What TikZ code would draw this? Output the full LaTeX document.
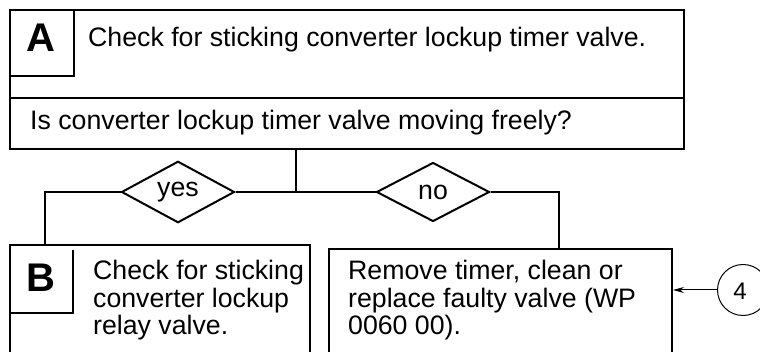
\documentclass[tikz,border=0pt]{standalone}
\usepackage{fontspec}
\setmainfont{Liberation Sans}
\usetikzlibrary{shapes.geometric, arrows.meta}

\begin{document}
\begin{tikzpicture}[x=1pt, y=-1pt,
    box/.style={draw, line width=2pt, anchor=north west, inner sep=0pt},
    choice/.style={draw, diamond, line width=2pt, minimum width=113pt, minimum height=59pt, inner sep=0pt, font=\fontsize{26.7}{27.5}\selectfont},
    txt/.style={anchor=base west, inner sep=0pt, align=left, font=\fontsize{26.7}{27.5}\selectfont},
    letter/.style={anchor=base, inner sep=0pt, font=\fontsize{40}{40}\bfseries\selectfont}]
    \clip (0,0) rectangle (760,352);
    % step A
    \node[box, minimum width=674pt, minimum height=88pt] (stepA) at (9,9) {};
    \node[box, minimum width=674pt, minimum height=51pt] (questA) at (9,97) {};
    \node[box, minimum width=64pt, minimum height=66pt] (tagA) at (9,9) {};
    \node[letter] (letA) at (41,52) {A};
    \node[txt] (textA) at (88,47) {Check for sticking converter lockup timer valve.};
    \node[txt] (textQ) at (30,130) {Is converter lockup timer valve moving freely?};
    % answers
    \coordinate (split) at (296,192);
    \node[choice] (yes) at (178,192) {yes};
    \node[choice] (no) at (433,192) {no};
    % step B and repair
    \node[box, minimum width=300pt, minimum height=140pt] (stepB) at (9,244) {};
    \node[box, minimum width=343pt, minimum height=140pt] (repair) at (328,248) {};
    \coordinate (tagB) at (73,250);
    \draw[line width=2pt] (tagB) |- (stepB.west |- 0,313);
    \node[letter] (letB) at (41,292) {B};
    \node[txt] (textB) at (93,335) {Check for sticking\\converter lockup\\relay valve.};
    \node[txt] (textR) at (348,335) {Remove timer, clean or\\replace faulty valve (WP\\0060 00).};
    % connectors
    \draw[line width=2pt] (questA.south -| split) -- (split);
    \draw[line width=2pt] (yes.east) -- (split) -- (no.west);
    \draw[line width=2pt] (yes.west) -| ([xshift=36pt]stepB.north west);
    \draw[line width=2pt] (no.east) -| ([xshift=231pt]repair.north west);
    % reference 4
    \node[draw, circle, line width=1pt, minimum size=51pt, inner sep=0pt] (ref4) at (743,290) {};
    \node[font=\fontsize{24}{24}\selectfont, inner sep=0pt] (num4) at (740,291) {4};
    \draw[line width=1pt, -{Stealth[length=11pt, width=6pt]}] (ref4.west) -- (ref4.west -| repair.east);
\end{tikzpicture}
\end{document}
